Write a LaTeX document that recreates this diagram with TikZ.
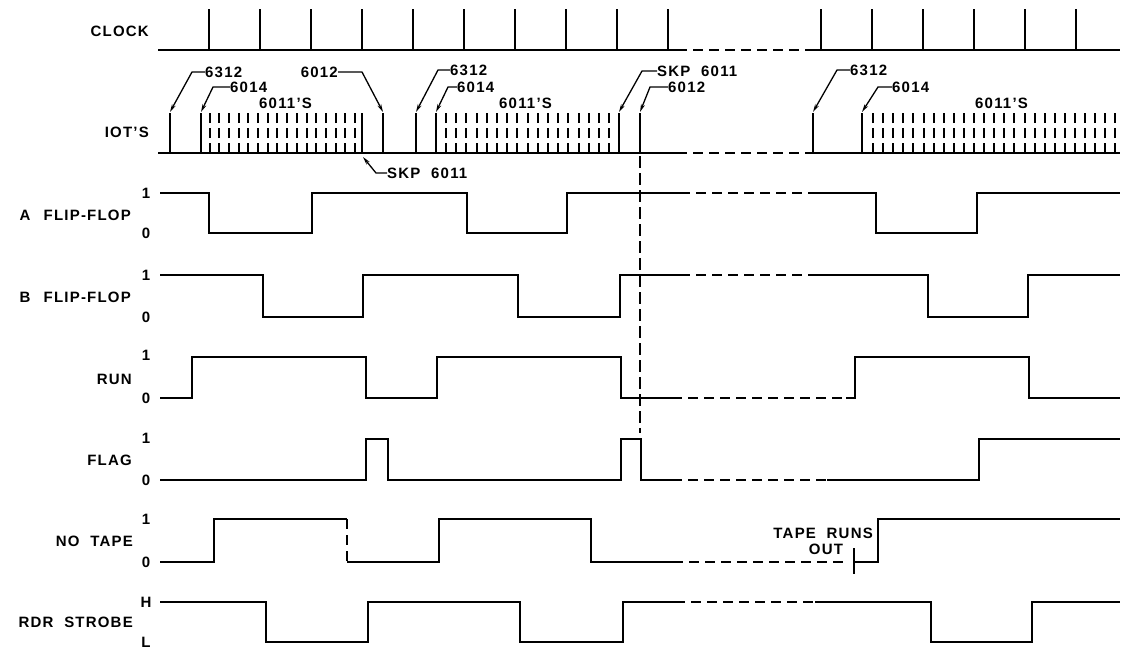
\documentclass[tikz,border=0pt]{standalone}
\usepackage{fontspec}
\setmainfont{Liberation Sans}[LetterSpace=8, WordSpace=2]
\usepackage{tikz}
\usetikzlibrary{arrows.meta}
\newcommand{\lbl}{\fontsize{15}{17}\selectfont\bfseries}

\begin{document}
\begin{tikzpicture}[x=1pt, y=-1pt,
    wave/.style={line width=2pt},
    gap/.style={line width=2pt, dash pattern=on 10pt off 6pt},
    tick/.style={line width=2pt},
    dpulse/.style={line width=2pt, dash pattern=on 10pt off 5pt},
    vline/.style={line width=1.2pt, dash pattern=on 12pt off 5pt},
    leader/.style={line width=1.3pt, -{Stealth[length=8pt, width=4pt]}},
    txt/.style={font=\lbl, inner sep=0pt, text height=11pt, text depth=0pt}]
    \useasboundingbox (0,0) rectangle (1123,650);

    \node[txt, anchor=east] at (149,31)  (clk)  {CLOCK};
    \node[txt, anchor=east] at (149,132) (iot)  {IOT'S};
    \node[txt, anchor=east] at (131,215) (aff)  {A\, FLIP-FLOP};
    \node[txt, anchor=east] at (131,297) (bff)  {B\, FLIP-FLOP};
    \node[txt, anchor=east] at (132,379) (run)  {RUN};
    \node[txt, anchor=east] at (132,460) (flag) {FLAG};
    \node[txt, anchor=east] at (133,541) (nt)   {NO TAPE};
    \node[txt, anchor=east] at (133,622) (rdr)  {RDR STROBE};

    \node[txt] at (146,193) (aff1) {1};
    \node[txt] at (146,233) (aff0) {0};
    \node[txt] at (146,275) (bff1) {1};
    \node[txt] at (146,317) (bff0) {0};
    \node[txt] at (146,355) (run1) {1};
    \node[txt] at (146,398) (run0) {0};
    \node[txt] at (146,438) (flag1) {1};
    \node[txt] at (146,480) (flag0) {0};
    \node[txt] at (146,519) (nt1) {1};
    \node[txt] at (146,562) (nt0) {0};
    \node[txt] at (146,602) (rdrh) {H};
    \node[txt] at (146,642) (rdrl) {L};

    % clock
    \draw[wave] (158,50) -- (677,50);
    \draw[gap] (677,50) -- (805,50);
    \draw[wave] (805,50) -- (1120,50);
    \foreach \k in {0,...,9,12,13,...,17}
        \draw[tick] (209+51*\k,50) -- ++(0,-41);

    % iot's
    \draw[wave] (158,153) -- (677,153);
    \draw[gap] (677,153) -- (805,153);
    \draw[wave] (805,153) -- (1120,153);
    \foreach \x in {170,201,362,383,416,436,619,640,813,862}
        \draw[tick] (\x,153) -- ++(0,-40);
    \foreach \i in {0,...,15}
        \draw[dpulse] (209.5+9.7*\i,153) -- ++(0,-40);
    \foreach \i in {0,...,16}
        \draw[dpulse] (446+10.2*\i,153) -- ++(0,-40);
    \foreach \i in {0,...,24}
        \draw[dpulse] (873+10.1*\i,153) -- ++(0,-40);

    \coordinate (p1) at (170,112);
    \coordinate (p2) at (201,112);
    \coordinate (p3) at (383,112);
    \coordinate (p4) at (363,157);
    \coordinate (p5) at (416,112);
    \coordinate (p6) at (436,112);
    \coordinate (p7) at (619,112);
    \coordinate (p8) at (640,112);
    \coordinate (p9) at (813,112);
    \coordinate (p10) at (862,112);

    \node[txt, anchor=west] at (205,72)  (n1) {6312};
    \node[txt, anchor=west] at (230,87)  (n2) {6014};
    \node[txt, anchor=west] at (259,103) (s1) {6011'S};
    \node[txt, anchor=east] at (338,72)  (n3) {6012};
    \node[txt, anchor=west] at (387,173) (n4) {SKP 6011};
    \node[txt, anchor=west] at (450,70)  (n5) {6312};
    \node[txt, anchor=west] at (457,87)  (n6) {6014};
    \node[txt, anchor=west] at (499,103) (s2) {6011'S};
    \node[txt, anchor=west] at (657,71)  (n7) {SKP 6011};
    \node[txt, anchor=west] at (668,87)  (n8) {6012};
    \node[txt, anchor=west] at (850,70)  (n9) {6312};
    \node[txt, anchor=west] at (892,87)  (n10) {6014};
    \node[txt, anchor=west] at (975,103) (s3) {6011'S};

    \draw[leader] (n1.west) -- ++(-13,0) -- (p1);
    \draw[leader] (n2.west) -- ++(-17,0) -- (p2);
    \draw[leader] (n3.east) -- ++(24,0) -- (p3);
    \draw[leader] (n4.west) -- ++(-11,0) -- (p4);
    \draw[leader] (n5.west) -- ++(-12,0) -- (p5);
    \draw[leader] (n6.west) -- ++(-9,0) -- (p6);
    \draw[leader] (n7.west) -- ++(-15,0) -- (p7);
    \draw[leader] (n8.west) -- ++(-18,0) -- (p8);
    \draw[leader] (n9.west) -- ++(-13,0) -- (p9);
    \draw[leader] (n10.west) -- ++(-14,0) -- (p10);

    \draw[vline] (640,156) -- (640,433);

    % a flip-flop
    \draw[wave] (160,193) -- (209,193) -- (209,233) -- (312,233) -- (312,193)
        -- (467,193) -- (467,233) -- (567,233) -- (567,193) -- (680,193);
    \draw[gap] (680,193) -- (813,193);
    \draw[wave] (813,193) -- (876,193) -- (876,233) -- (977,233) -- (977,193) -- (1120,193);

    % b flip-flop
    \draw[wave] (160,275) -- (263,275) -- (263,317) -- (363,317) -- (363,275)
        -- (518,275) -- (518,317) -- (620,317) -- (620,275) -- (680,275);
    \draw[gap] (680,275) -- (818,275);
    \draw[wave] (818,275) -- (928,275) -- (928,317) -- (1028,317) -- (1028,275) -- (1120,275);

    % run
    \draw[wave] (160,398) -- (192,398) -- (192,357) -- (366,357) -- (366,398)
        -- (437,398) -- (437,357) -- (621,357) -- (621,398) -- (672,398);
    \draw[gap] (672,398) -- (846,398);
    \draw[wave] (846,398) -- (855,398) -- (855,357) -- (1029,357) -- (1029,398) -- (1120,398);

    % flag
    \draw[wave] (160,480) -- (366,480) -- (366,439) -- (388,439) -- (388,480)
        -- (621,480) -- (621,439) -- (641,439) -- (641,480) -- (672,480);
    \draw[gap] (672,480) -- (827,480);
    \draw[wave] (827,480) -- (979,480) -- (979,439) -- (1120,439);

    % no tape
    \draw[wave] (160,562) -- (214,562) -- (214,519) -- (347,519);
    \draw[gap] (347,519) -- (347,562);
    \draw[wave] (347,562) -- (439,562) -- (439,519) -- (591,519) -- (591,562) -- (673,562);
    \draw[gap] (673,562) -- (847,562);
    \draw[tick] (854,548) -- (854,574);
    \draw[wave] (854,562) -- (878,562) -- (878,519) -- (1120,519);
    \node[txt, anchor=east] at (873,533) (tro) {TAPE RUNS};
    \node[txt] at (826,549) (out) {OUT};

    % rdr strobe
    \draw[wave] (160,602) -- (266,602) -- (266,642) -- (368,642) -- (368,602)
        -- (520,602) -- (520,642) -- (623,642) -- (623,602) -- (675,602);
    \draw[gap] (675,602) -- (815,602);
    \draw[wave] (815,602) -- (931,602) -- (931,642) -- (1032,642) -- (1032,602) -- (1120,602);
\end{tikzpicture}
\end{document}
